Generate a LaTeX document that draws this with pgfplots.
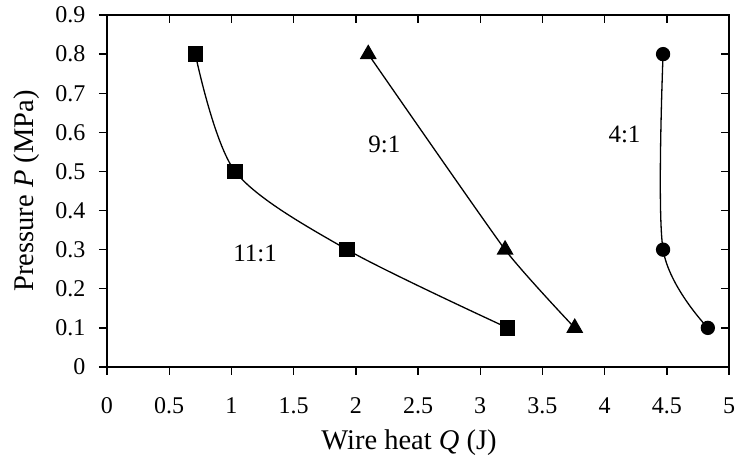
\documentclass[border=0pt]{standalone}
\usepackage{pgfplots}
\pgfplotsset{compat=1.18}
\usetikzlibrary{calc}
\usepackage{fontspec}
\setmainfont{Liberation Serif}
\begin{document}
\begin{tikzpicture}[font=\fontsize{24}{28}\selectfont]
\pgfplotsset{
  common/.style={
    scale only axis, width=622pt, height=352pt,
    xmin=0, xmax=5, ymin=0, ymax=0.9,
    xtick={0,0.5,...,5}, ytick={0,0.1,...,0.9},
    axis line style={line width=1.6pt},
    major tick length=8pt,
    every tick/.style={black, line width=1.4pt},
    tick label style={font=\fontsize{24}{28}\selectfont},
    label style={font=\fontsize{28.5}{33}\selectfont},
    /pgf/number format/assume math mode=true,
    /pgf/number format/fixed,
  }
}
\begin{axis}[common, name=ax,
  tick align=outside, xtick pos=left, ytick pos=left,
  xticklabel style={yshift=-19pt},
  yticklabel style={xshift=-10pt},
  xlabel={Wire heat \textit{Q} (J)},
  ylabel={Pressure \textit{P} (MPa)},
  xlabel style={at={(axis description cs:0.4855,-0.2358)}, anchor=base},
  ylabel style={at={(axis description cs:-0.1174,0.5)}, anchor=base},
  clip=false,
]
\addplot[black, line width=1.3pt, smooth, tension=0.5, mark=square*, mark size=7pt] coordinates {
 (0.71,0.8) (1.03,0.5) (1.93,0.3) (3.22,0.1)};
\addplot[black, line width=1.3pt, smooth, tension=0.3, mark=triangle*, mark size=8.5pt] coordinates {
 (2.1,0.8) (3.2,0.3) (3.76,0.1)};
\addplot[black, line width=1.3pt, smooth, tension=0.5, mark=*, mark size=6.5pt] coordinates {
 (4.47,0.8) (4.47,0.3) (4.83,0.1)};
\node[font=\fontsize{25}{30}\selectfont] at (axis cs:1.19,0.29) {11:1};
\node[font=\fontsize{25}{30}\selectfont] at (axis cs:2.23,0.57) {9:1};
\node[font=\fontsize{25}{30}\selectfont] at (axis cs:4.16,0.595) {4:1};
\end{axis}
\begin{axis}[common,
  tick align=inside, xtick pos=right, ytick pos=right,
  xticklabels={}, yticklabels={},
]
\end{axis}
\pgfresetboundingbox
\path ($(ax.south west)+(-107pt,-96pt)$) rectangle ($(ax.north east)+(6pt,15pt)$);
\end{tikzpicture}
\end{document}
